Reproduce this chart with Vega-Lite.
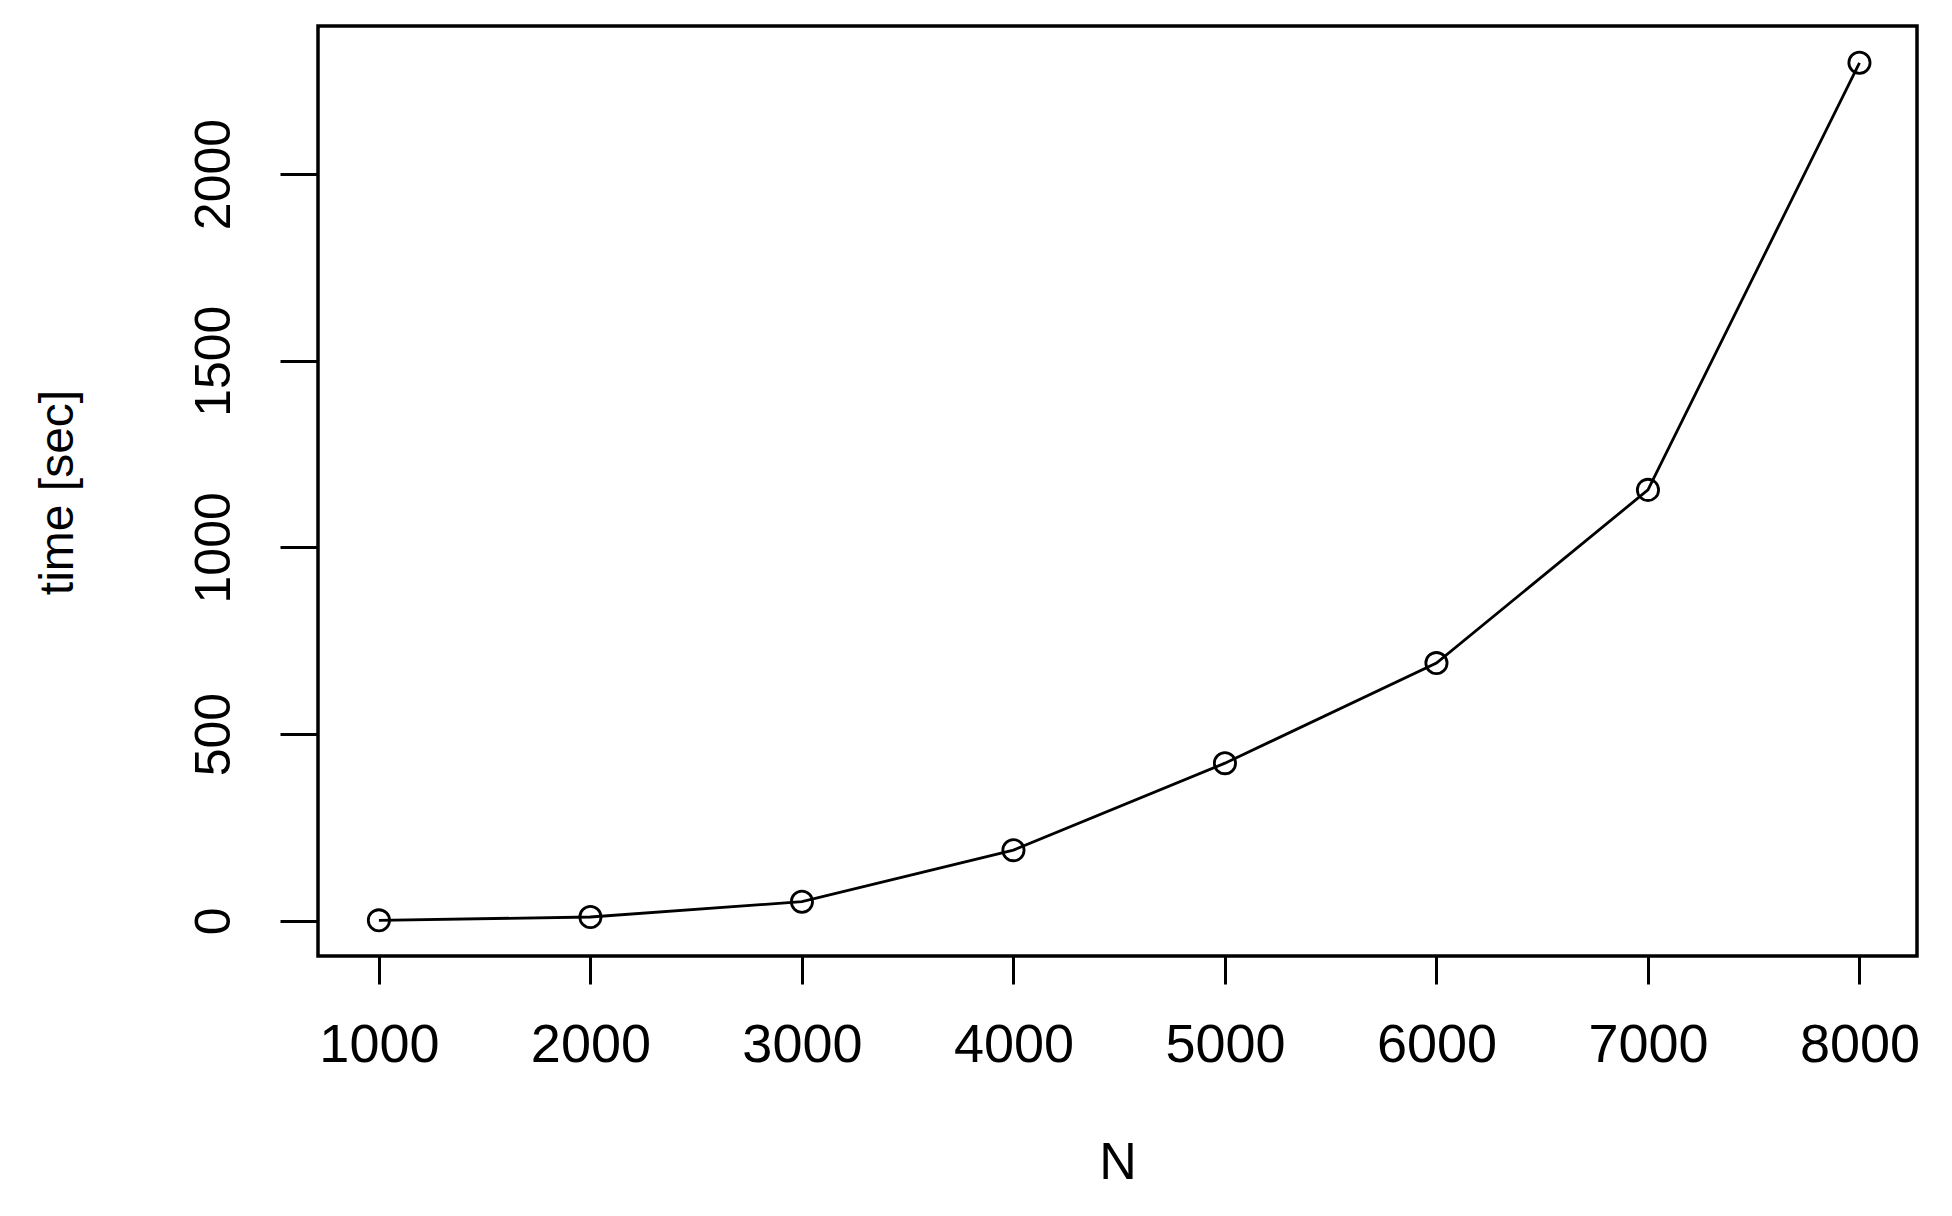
{
  "$schema": "https://vega.github.io/schema/vega-lite/v6.json",
  "autosize": "none",
  "width": 1599,
  "height": 930,
  "padding": {"left": 318, "top": 26, "right": 35, "bottom": 260},
  "background": "white",
  "config": {
    "view": {"stroke": "black", "strokeWidth": 3.5, "fill": "white"},
    "axis": {
      "domain": false,
      "grid": false,
      "tickColor": "black",
      "tickWidth": 3,
      "labelColor": "black",
      "titleColor": "black",
      "labelFont": "Liberation Sans",
      "titleFont": "Liberation Sans",
      "labelFontWeight": "normal",
      "titleFontWeight": "normal"
    }
  },
  "data": {
    "values": [
      {"N": 1000, "time": 1},
      {"N": 2000, "time": 10},
      {"N": 3000, "time": 51},
      {"N": 4000, "time": 189},
      {"N": 5000, "time": 422},
      {"N": 6000, "time": 690},
      {"N": 7000, "time": 1154},
      {"N": 8000, "time": 2298}
    ]
  },
  "encoding": {
    "x": {
      "field": "N",
      "type": "quantitative",
      "scale": {"domain": [712, 8272], "nice": false, "zero": false},
      "axis": {
        "title": "N",
        "values": [1000, 2000, 3000, 4000, 5000, 6000, 7000, 8000],
        "format": "d",
        "tickSize": 28,
        "labelFontSize": 54,
        "labelPadding": 34,
        "labelBaseline": "top",
        "labelFlush": false,
        "labelOverlap": false,
        "titleFontSize": 52,
        "titleBaseline": "alphabetic",
        "titleY": 222
      }
    },
    "y": {
      "field": "time",
      "type": "quantitative",
      "scale": {"domain": [-94.5, 2396.5], "nice": false, "zero": false},
      "axis": {
        "title": "time [sec]",
        "values": [0, 500, 1000, 1500, 2000],
        "format": "d",
        "tickSize": 38,
        "labelAngle": 270,
        "labelAlign": "center",
        "labelBaseline": "alphabetic",
        "labelFontSize": 50,
        "labelPadding": 51,
        "labelFlush": false,
        "labelOverlap": false,
        "titleFontSize": 48,
        "titleAngle": 270,
        "titleAlign": "center",
        "titleBaseline": "alphabetic",
        "titleX": -246,
        "titleY": 466
      }
    }
  },
  "layer": [
    {"mark": {"type": "line", "color": "black", "strokeWidth": 2.8}},
    {"mark": {"type": "point", "shape": "circle", "filled": false, "color": "black", "size": 450, "strokeWidth": 2.8, "opacity": 1}}
  ]
}
